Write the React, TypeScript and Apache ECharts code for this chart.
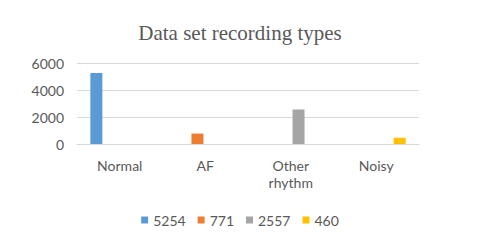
import React, { useEffect, useRef } from "react";
import * as echarts from "echarts";

const categories = ["Normal", "AF", "Other\nrhythm", "Noisy"];
const seriesNames = ["5254", "771", "2557", "460"];
const seriesValues = [
  [5254, 0, 0, 0],
  [0, 771, 0, 0],
  [0, 0, 2557, 0],
  [0, 0, 0, 460],
];
const colors = ["#5B9BD5", "#ED7D31", "#A5A5A5", "#FFC000"];
const yTicks = { min: 0, max: 6000, interval: 2000 };

export default function App() {
  const ref = useRef<HTMLDivElement>(null);
  useEffect(() => {
    if (!ref.current) return;
    const chart = echarts.init(ref.current, undefined, { renderer: "svg" });
    const font = "Lato, 'Noto Sans', sans-serif";
    chart.setOption({
      animation: false,
      backgroundColor: "#ffffff",
      title: {
        text: "Data set recording types",
        left: "center",
        top: 17,
        textStyle: {
          fontFamily: "'Liberation Serif', 'Times New Roman', serif",
          fontSize: 21,
          fontWeight: "normal",
          color: "#595959",
        },
      },
      legend: {
        data: seriesNames,
        bottom: 12,
        left: "center",
        icon: "rect",
        itemWidth: 7,
        itemHeight: 7,
        itemGap: 12,
        textStyle: { fontFamily: font, fontSize: 14, color: "#595959" },
      },
      grid: { left: 77, right: 61, top: 63, bottom: 100, containLabel: false },
      xAxis: {
        type: "category",
        data: categories,
        axisLine: { show: true, lineStyle: { color: "#d9d9d9" } },
        axisTick: { show: false },
        axisLabel: {
          fontFamily: font,
          fontSize: 14,
          color: "#595959",
          margin: 13,
          lineHeight: 17,
        },
      },
      yAxis: {
        type: "value",
        min: yTicks.min,
        max: yTicks.max,
        interval: yTicks.interval,
        axisLine: { show: false },
        axisTick: { show: false },
        splitLine: { lineStyle: { color: "#d9d9d9" } },
        axisLabel: {
          fontFamily: font,
          fontSize: 14,
          color: "#595959",
          margin: 13,
          formatter: (v: number) => String(v),
        },
      },
      series: seriesNames.map((name, i) => ({
        name,
        type: "bar",
        data: seriesValues[i],
        barWidth: 12,
        barGap: "30%",
        itemStyle: { color: colors[i] },
      })),
    });
    return () => chart.dispose();
  }, []);
  return (
    <div
      ref={ref}
      style={{ position: "fixed", left: 0, top: 0, width: 480, height: 244 }}
    />
  );
}
